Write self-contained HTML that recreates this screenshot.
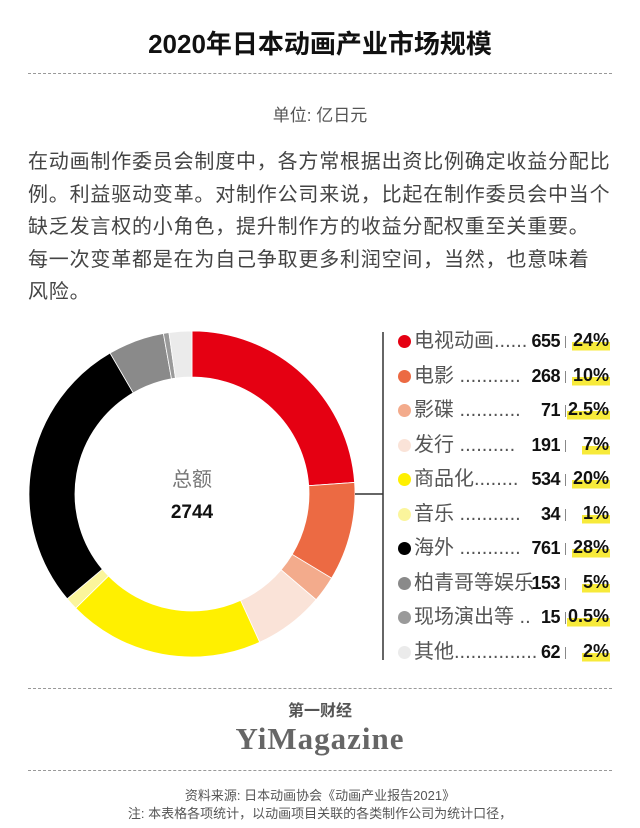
<!DOCTYPE html>
<html><head><meta charset="utf-8">
<style>
body{margin:0;width:640px;height:828px;background:#fff;font-family:"Liberation Sans","Noto Sans CJK SC",sans-serif;position:relative;overflow:hidden}
.abs{position:absolute}
.dash{position:absolute;left:28px;width:584px;border-top:1.5px dashed #999}
.para{position:absolute;left:28px;width:600px;font-size:20px;line-height:32.5px;color:#444;top:146px;letter-spacing:0.8px;white-space:nowrap}
.row{position:absolute;left:395px;width:215px;height:30px;font-size:20px;color:#555;line-height:30px}
.row .dot{position:absolute;left:3px;top:9px;width:13px;height:13px;border-radius:50%}
.row .lbl{position:absolute;left:19px;top:0;white-space:nowrap}
.row .num{position:absolute;right:50px;top:0;font-weight:bold;color:#111;font-size:18px;font-family:"Liberation Sans Narrow","Liberation Sans",sans-serif;letter-spacing:-0.5px}
.row .sep{position:absolute;right:44px;top:10px;width:1px;height:12px;background:#888}
.row .pct{position:absolute;right:0;top:0;font-weight:bold;color:#111;font-size:18px;font-family:"Liberation Sans Narrow","Liberation Sans",sans-serif;line-height:28px;background:linear-gradient(transparent 58%,#f7ea3a 58%,#f7ea3a 88%,transparent 88%);padding:0 1px}
</style></head><body>
<div class="abs" style="left:0;width:640px;top:24px;text-align:center;font-size:26px;font-weight:bold;color:#111">2020年日本动画产业市场规模</div>
<div class="dash" style="top:73px"></div>
<div class="abs" style="left:0;width:640px;top:101px;text-align:center;font-size:17px;color:#555">单位: 亿日元</div>
<div class="para">在动画制作委员会制度中，各方常根据出资比例确定收益分配比<br>例。利益驱动变革。对制作公司来说，比起在制作委员会中当个<br>缺乏发言权的小角色，提升制作方的收益分配权重至关重要。<br>每一次变革都是在为自己争取更多利润空间，当然，也意味着<br>风险。</div>
<svg class="abs" style="left:0;top:0" width="640" height="828">
<g id="slices"></g>
<line x1="355" y1="494" x2="383" y2="494" stroke="#333" stroke-width="1.5"/>
<line x1="383" y1="332" x2="383" y2="660" stroke="#333" stroke-width="1.5"/>
<text x="192" y="486" text-anchor="middle" font-size="20" fill="#777" font-family="Liberation Sans,Noto Sans CJK SC,sans-serif">总额</text>
<text x="192" y="518" text-anchor="middle" font-size="19" font-weight="bold" fill="#111" font-family="Liberation Sans Narrow,Liberation Sans,sans-serif">2744</text>
</svg>
<div id="legend"></div>
<div class="dash" style="top:688px"></div>
<div class="abs" style="left:0;width:640px;top:702px;text-align:center;font-size:16px;line-height:20px;color:#555;font-weight:bold">第一财经</div>
<div class="abs" style="left:0;width:640px;top:721px;text-align:center;font-size:31px;line-height:35px;letter-spacing:1px;color:#666;font-weight:bold;font-family:'Liberation Serif',serif">YiMagazine</div>
<div class="dash" style="top:770px"></div>
<div class="abs" style="left:0;width:640px;top:787px;text-align:center;font-size:13px;color:#555;line-height:18px">资料来源: 日本动画协会《动画产业报告2021》<br>注: 本表格各项统计，以动画项目关联的各类制作公司为统计口径，</div>
<script>
const categories=["电视动画","电影","影碟","发行","商品化","音乐","海外","柏青哥等娱乐","现场演出等","其他"];
const values=[655,268,71,191,534,34,761,153,15,62];
const pctLabels=["24%","10%","2.5%","7%","20%","1%","28%","5%","0.5%","2%"];
const dots=["......"," ..........."," ..........."," ..........","........"," ..........."," ...........",""," ..","..............."];
const colors=["#e50012","#ec6a43","#f3ab8c","#fae3d8","#fff000","#fbf59c","#000000","#8a8a8a","#9a9a9a","#ebebeb"];
const cx=192,cy=494,R=163,r=117;
const total=values.reduce((a,b)=>a+b,0);
const g=document.getElementById('slices');
function pt(rad,a){return [cx+rad*Math.sin(a),cy-rad*Math.cos(a)];}
let acc=0;
values.forEach((v,i)=>{
 const a0=acc/total*2*Math.PI; acc+=v; const a1=acc/total*2*Math.PI;
 const lg=(a1-a0)>Math.PI?1:0;
 const p1=pt(R,a0),p2=pt(R,a1),p3=pt(r,a1),p4=pt(r,a0);
 const p=document.createElementNS('http://www.w3.org/2000/svg','path');
 p.setAttribute('d',`M${p1}A${R},${R} 0 ${lg} 1 ${p2}L${p3}A${r},${r} 0 ${lg} 0 ${p4}Z`);
 p.setAttribute('fill',colors[i]);
 p.setAttribute('stroke','#fff');p.setAttribute('stroke-width','0.8');
 
 
 g.appendChild(p);
});
const L=document.getElementById('legend');
categories.forEach((c,i)=>{
 const d=document.createElement('div');d.className='row';d.style.top=(326+i*34.5)+'px';
 
 
 d.innerHTML=`<span class="dot" style="background:${colors[i]}"></span><span class="lbl">${c}${dots[i]}</span><span class="num">${values[i]}</span><span class="sep"></span><span class="pct">${pctLabels[i]}</span>`;
 L.appendChild(d);
});
</script>
</body></html>
